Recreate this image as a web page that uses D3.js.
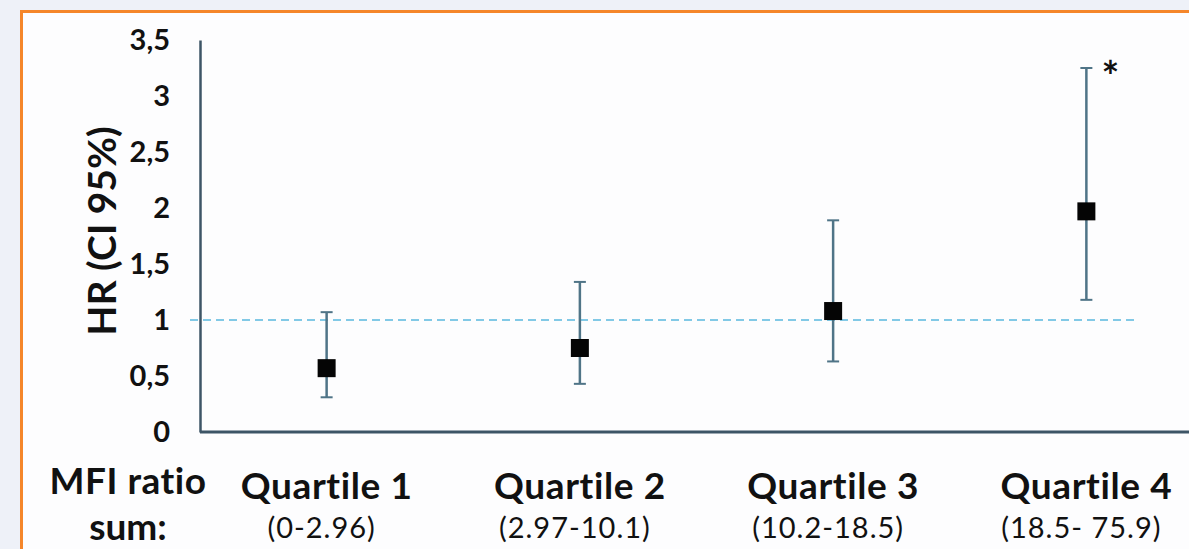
<!DOCTYPE html>
<html>
<head>
<meta charset="utf-8">
<script src="https://cdn.jsdelivr.net/npm/d3@7"></script>
<style>
  body { margin: 0; background: #eef1f8; }
  svg { display: block; }
  text { font-family: Lato, "Open Sans", sans-serif; fill: #111; font-variant-ligatures: none; }
</style>
</head>
<body>
<div id="chart"></div>
<script>
var width = 1189;
var height = 549;

// data
var quartiles = ["Quartile 1", "Quartile 2", "Quartile 3", "Quartile 4"];
var ranges = ["(0-2.96)", "(2.97-10.1)", "(10.2-18.5)", "(18.5- 75.9)"];
var hr = [0.57, 0.75, 1.08, 1.97];
var ciLow = [0.31, 0.43, 0.63, 1.18];
var ciHigh = [1.07, 1.34, 1.89, 3.25];
var yTicks = [0, 0.5, 1, 1.5, 2, 2.5, 3, 3.5];
var refLine = 1;

var svg = d3.select("#chart")
    .append("svg")
    .attr("width", width)
    .attr("height", height);

// white panel with orange frame
svg.append("rect")
    .attr("x", 21.5).attr("y", 11.5)
    .attr("width", width).attr("height", height)
    .style("fill", "#fdfdfe")
    .style("stroke", "#f5862a")
    .style("stroke-width", 3);

var x = d3.scalePoint()
    .domain(quartiles)
    .range([200, 1213])
    .padding(0.5);

var y = d3.scaleLinear()
    .domain([0, 3.5])
    .range([432, 40]);

var axisColor = "#3d5566";

// y axis
var yAxis = d3.axisLeft(y)
    .tickValues(yTicks)
    .tickSize(0)
    .tickPadding(30)
    .tickFormat(function (d) { return String(d).replace(".", ","); });

var gy = svg.append("g")
    .attr("transform", "translate(200,0)")
    .call(yAxis);
gy.select(".domain").style("stroke", axisColor).style("stroke-width", 2.5);
gy.selectAll("text")
    .style("font-size", "29px")
    .style("font-weight", "bold")
    .style("font-family", "Lato, sans-serif")
    .style("fill", "#111");

// x axis line
svg.append("line")
    .attr("x1", 200).attr("x2", width)
    .attr("y1", y(0)).attr("y2", y(0))
    .style("stroke", axisColor)
    .style("stroke-width", 3);

// reference line at HR = 1
svg.append("line")
    .attr("x1", 190).attr("x2", 1135)
    .attr("y1", y(refLine)).attr("y2", y(refLine))
    .style("stroke", "#5ab8de")
    .style("stroke-width", 1.5)
    .style("stroke-dasharray", "8,5");

var idx = d3.range(quartiles.length);
var errColor = "#4f7487";

// error bars
svg.selectAll(".err")
    .data(idx)
    .enter()
    .append("line")
    .attr("class", "err")
    .attr("x1", function (i) { return x(quartiles[i]); })
    .attr("x2", function (i) { return x(quartiles[i]); })
    .attr("y1", function (i) { return y(ciLow[i]); })
    .attr("y2", function (i) { return y(ciHigh[i]); })
    .style("stroke", errColor)
    .style("stroke-width", 2.5);

[ciLow, ciHigh].forEach(function (arr) {
    svg.selectAll(null)
        .data(idx)
        .enter()
        .append("line")
        .attr("x1", function (i) { return x(quartiles[i]) - 6; })
        .attr("x2", function (i) { return x(quartiles[i]) + 6; })
        .attr("y1", function (i) { return y(arr[i]); })
        .attr("y2", function (i) { return y(arr[i]); })
        .style("stroke", errColor)
        .style("stroke-width", 2);
});

// point estimates
svg.selectAll(".pt")
    .data(idx)
    .enter()
    .append("rect")
    .attr("class", "pt")
    .attr("x", function (i) { return x(quartiles[i]) - 9; })
    .attr("y", function (i) { return y(hr[i]) - 9; })
    .attr("width", 18)
    .attr("height", 18)
    .style("fill", "#050505");

// significance mark
svg.append("text")
    .attr("x", x(quartiles[3]) + 15)
    .attr("y", y(ciHigh[3]) + 24)
    .style("font-size", "42px")
    .style("font-weight", "bold")
    .text("*");

// category labels
svg.selectAll(".qlab")
    .data(idx)
    .enter()
    .append("text")
    .attr("class", "qlab")
    .attr("x", function (i) { return x(quartiles[i]); })
    .attr("y", 499)
    .attr("text-anchor", "middle")
    .style("font-size", "37px")
    .style("font-weight", "bold")
    .style("letter-spacing", "0.6px")
    .text(function (i) { return quartiles[i]; });

svg.selectAll(".rlab")
    .data(idx)
    .enter()
    .append("text")
    .attr("class", "rlab")
    .attr("x", function (i) { return x(quartiles[i]) - 5; })
    .attr("y", 538)
    .attr("text-anchor", "middle")
    .style("font-size", "29px")
    .style("letter-spacing", "1px")
    .text(function (i) { return ranges[i]; });

svg.append("text")
    .attr("x", 128).attr("y", 494)
    .attr("text-anchor", "middle")
    .style("font-size", "37px")
    .style("font-weight", "bold")
    .style("letter-spacing", "0.5px")
    .text("MFI ratio");

svg.append("text")
    .attr("x", 128).attr("y", 540)
    .attr("text-anchor", "middle")
    .style("font-size", "37px")
    .style("font-weight", "bold")
    .text("sum:");

// y title
svg.append("text")
    .attr("transform", "translate(116,231) rotate(-90)")
    .attr("text-anchor", "middle")
    .style("font-size", "39px")
    .style("font-weight", "bold")
    .text("HR (CI 95%)");
</script>
</body>
</html>
